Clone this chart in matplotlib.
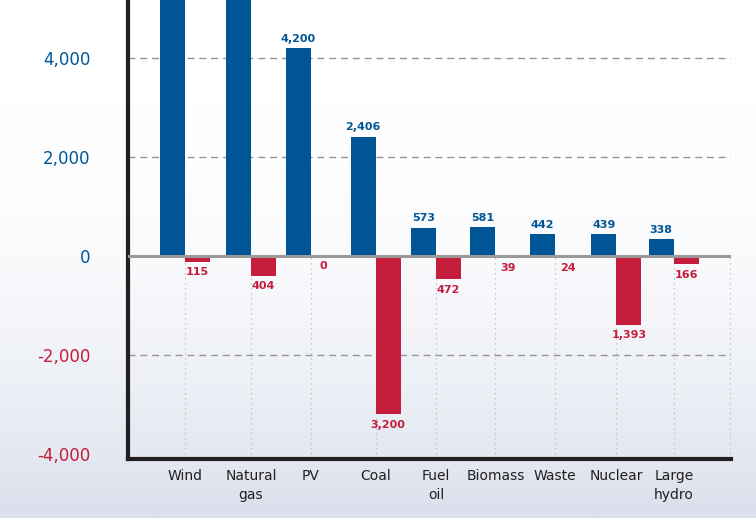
import numpy as np
import matplotlib
matplotlib.use("Agg")
from matplotlib import pyplot as plt

# Data (Wind and Natural gas run past the top of the axes)
categories = ["Wind", "Natural\ngas", "PV", "Coal", "Fuel\noil", "Biomass",
              "Waste", "Nuclear", "Large\nhydro"]
added = [6200, 6000, 4200, 2406, 573, 581, 442, 439, 338]
retired = [115, 404, 0, 3200, 472, 39, 24, 1393, 166]
show_added_label = [False, False, True, True, True, True, True, True, True]

yticks = [-4000, -2000, 0, 2000, 4000]

# category slots are not evenly spaced in the original layout
slot = np.array([0, 1.08, 2.06, 3.12, 4.11, 5.08, 6.06, 7.06, 8.0])

BLUE = "#005596"
RED = "#c51d3b"
DARK = "#231f20"

fig = plt.figure(figsize=(7.56, 5.18), dpi=100)

# background gradient, white at the top to pale blue-grey at the bottom
bg = fig.add_axes([0, 0, 1, 1], zorder=0)
top = np.array([1.0, 1.0, 1.0])
bot = np.array([218, 224, 236]) / 255.0
t = np.linspace(0, 1, 256)
t = np.clip((t - 0.2) / 0.8, 0, 1) ** 1.8
grad = top[None, :] * (1 - t[:, None]) + bot[None, :] * t[:, None]
bg.imshow(grad[:, None, :], aspect="auto", extent=[0, 1, 0, 1], origin="upper")
bg.axis("off")

ax = fig.add_axes([128 / 756, 1 - 459 / 518, (731 - 128) / 756, 459 / 518], zorder=1)
ax.patch.set_alpha(0)

w = 0.41
ax.set_xlim(-0.933, 8.936)
ax.set_ylim(-4100, 5170)

# grid
for yv in [-2000, 2000, 4000]:
    ax.axhline(yv, color="#959595", lw=1.0, ls=(0, (5, 3.5)), zorder=1)
ax.vlines(list(slot) + [ax.get_xlim()[1] - 0.01], -4100, 0, color="#bbbbbb",
          lw=0.9, ls=(0, (1, 3)), zorder=1)

ax.bar(slot - w / 2, added, width=w, color=BLUE, zorder=2)
ax.bar(slot + w / 2, [-r for r in retired], width=w, color=RED, zorder=2)
ax.axhline(0, color="#999999", lw=2.2, zorder=3)

for xi, a, show in zip(slot, added, show_added_label):
    if show:
        ax.text(xi - w / 2, a + 90, f"{a:,}", ha="center", va="bottom",
                color=BLUE, fontsize=8, fontweight="bold")
for xi, r in zip(slot, retired):
    ax.text(xi + w / 2, -r - 110, f"{r:,}", ha="center", va="top",
            color=RED, fontsize=8, fontweight="bold")

ax.set_yticks(yticks)
ax.set_yticklabels([f"{v:,}" for v in yticks], fontsize=12)
for lab, v in zip(ax.get_yticklabels(), yticks):
    lab.set_color(RED if v < 0 else BLUE)
ax.tick_params(axis="y", length=0, pad=27)

ax.set_xticks(slot)
ax.set_xticklabels(categories, fontsize=10, color=DARK, linespacing=1.45)
ax.tick_params(axis="x", length=0, pad=7)

for s in ["top", "right"]:
    ax.spines[s].set_visible(False)
ax.spines["left"].set_color(DARK)
ax.spines["left"].set_linewidth(3)
ax.spines["bottom"].set_color(DARK)
ax.spines["bottom"].set_linewidth(3)

fig.savefig("out.png", dpi=100)
